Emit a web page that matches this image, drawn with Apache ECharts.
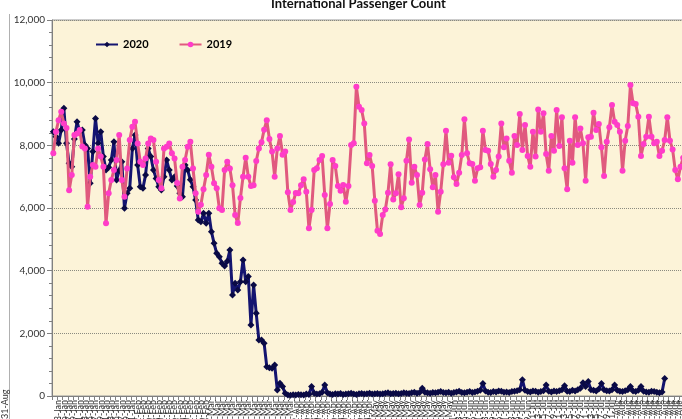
<!DOCTYPE html>
<html>
<head>
<meta charset="utf-8">
<script src="https://cdn.jsdelivr.net/npm/echarts@6/dist/echarts.min.js"></script>
<style>
html,body{margin:0;padding:0;background:#fff;}
#chart{width:682px;height:419px;}
</style>
</head>
<body>
<div id="chart"></div>
<script>
// ---- data ----
const chartTitle = 'International Passenger Count';
const seriesNames = ['2020', '2019'];
const monthNames = ['Jan', 'Feb', 'Mar', 'Apr', 'May', 'Jun', 'Jul', 'Aug'];
const monthLengths = [31, 29, 31, 30, 31, 30, 31, 31];
const yTicks = [0, 2000, 4000, 6000, 8000, 10000, 12000];

const values2019 = [
  7750, 8430, 8800, 9070, 8700, 8550, 6570, 7050, 8330, 8380,
  8490, 7960, 7900, 6040, 7000, 7370, 7320, 7900, 7640, 7320,
  5510, 6470, 6890, 7210, 7530, 8330, 6890, 6360, 7260, 8170,
  8590, 8750, 8060, 7480, 7370, 7580, 8060, 8220, 8170, 7480,
  6890, 6630, 7900, 7955, 8060, 7745, 7580, 6800, 6300, 7315,
  7530, 7955, 8115, 7260, 6470, 5880, 6100, 6600, 7050, 7700,
  7315, 6790, 6630, 5990, 5940, 7210, 7480, 7260, 6730, 5775,
  5520, 6320, 7000, 7600, 7000, 6700, 6730, 7500, 7900, 8100,
  8500, 8800, 8200, 7800, 7000, 7900, 8300, 7700, 7800, 6500,
  5935, 6190, 6480, 6470, 6730, 6915, 6520, 5350, 5935, 7210,
  7265, 7530, 7660, 6415, 5350, 6130, 7530, 7340, 6700, 6550,
  6735, 6200, 6700, 8010, 8065, 9870, 9230, 9125, 8700, 7425,
  7690, 7340, 6230, 5275, 5170, 5775, 5955, 6490, 7400, 6275,
  6470, 7075, 6020, 6310, 7510, 8190, 6805, 7315, 7050, 6095,
  6490, 7550, 8040, 7235, 6660, 7050, 5880, 6520, 7400, 8465,
  7445, 7670, 6980, 6765, 7125, 7690, 8830, 7745, 7425, 7405,
  6870, 7265, 7300, 8465, 7850, 7830, 7405, 6995, 7210, 7640,
  8700, 7935, 8220, 7510, 7125, 8300, 8010, 9000, 7850, 8650,
  7660, 7315, 8435, 7640, 9145, 8435, 9020, 7720, 7190, 8300,
  7830, 9125, 7980, 8895, 7265, 6595, 8145, 7445, 8895, 8010,
  8540, 8065, 6870, 8255, 8275, 9040, 8490, 8680, 7935, 7020,
  8115, 8575, 9285, 8755, 8650, 8435, 7190, 8145, 8615, 9925,
  9340, 9320, 8915, 7660, 8040, 8275, 8915, 8275, 8065, 8115,
  7660, 7830, 8170, 8895, 8145, 7870, 7210, 6915, 7315, 7600,
  7900, 8100, 7700, 7400
];

const values2020 = [
  8435, 8275, 8065, 8490, 9180, 8065, 7425, 7320, 8200, 8755,
  8435, 8490, 8010, 7900, 6790, 7800, 8860, 8065, 8435, 7640,
  7210, 7300, 7530, 8115, 6890, 7200, 7480, 5990, 6470, 6630,
  7900, 8330, 7370, 6680, 6630, 7050, 7900, 7640, 7210, 6945,
  6680, 6575, 7000, 7530, 7210, 6890, 7000, 6700, 6470, 6360,
  7370, 7210, 6900, 6680, 6255, 5615, 5560, 5830, 5510, 5830,
  5245, 4875, 4555, 4445, 4235, 4150, 4300, 4660, 3225, 3600,
  3385, 3650, 4340, 3650, 3810, 2265, 3545, 2640, 1790, 1790,
  1680, 935, 900, 885, 990, 190, 405, 300, 85, 30,
  20, 40, 30, 50, 40, 30, 60, 50, 300, 90,
  60, 70, 120, 350, 100, 60, 50, 70, 60, 80,
  50, 60, 70, 90, 60, 50, 70, 80, 60, 70,
  90, 60, 70, 80, 60, 70, 90, 100, 70, 80,
  90, 70, 80, 100, 90, 80, 100, 120, 90, 110,
  245, 120, 100, 90, 110, 100, 120, 140, 110, 100,
  120, 90, 110, 130, 150, 110, 100, 120, 140, 110,
  130, 150, 180, 400, 160, 120, 110, 140, 130, 160,
  150, 120, 130, 110, 140, 150, 170, 200, 520, 180,
  140, 130, 160, 150, 120, 140, 170, 350, 150, 130,
  160, 140, 170, 200, 330, 150, 140, 180, 160, 200,
  250, 420, 300, 460, 200, 180, 160, 220, 400, 200,
  170, 160, 200, 350, 180, 150, 140, 170, 200, 300,
  160, 140, 180, 300, 150, 130, 120, 150, 140, 120,
  100, 130, 560
];

// category labels: daily dates 1-Jan .. 31-Aug
const categories = [];
monthNames.forEach(function (m, i) {
  for (let d = 1; d <= monthLengths[i]; d++) categories.push(d + '-' + m);
});

// ---- chart ----
const FONT = 'Lato, "Open Sans", sans-serif';
const chart = echarts.init(document.getElementById('chart'), null, { renderer: 'canvas' });

chart.setOption({
  backgroundColor: '#ffffff',
  animation: false,
  title: {
    text: chartTitle,
    left: 266,
    top: -8,
    textStyle: { fontFamily: FONT, fontSize: 13, fontWeight: 'bold', color: '#111' }
  },
  legend: {
    data: seriesNames,
    left: 90,
    top: 34,
    itemWidth: 22,
    itemHeight: 7,
    itemGap: 30,
    textStyle: { fontFamily: FONT, fontSize: 11, fontWeight: 'bold', color: '#000' }
  },
  grid: {
    left: 52,
    top: 20,
    width: 643,
    height: 376,
    containLabel: false,
    outerBoundsMode: 'none',
    show: true,
    backgroundColor: '#FCF3D8',
    borderColor: '#9a9a9a',
    borderWidth: 1
  },
  xAxis: {
    type: 'category',
    data: categories,
    boundaryGap: true,
    axisLine: { lineStyle: { color: '#808080', width: 1 } },
    axisTick: { show: true, interval: 1, length: 4, lineStyle: { color: '#808080' } },
    axisLabel: {
      interval: 1,
      rotate: 90,
      fontSize: 9,
      fontFamily: FONT,
      color: '#333',
      margin: 4
    },
    splitLine: { show: false }
  },
  yAxis: {
    type: 'value',
    min: yTicks[0],
    max: yTicks[yTicks.length - 1],
    interval: 2000,
    axisLine: { show: true, lineStyle: { color: '#808080', width: 1 } },
    axisTick: { show: true, inside: false, length: 5, lineStyle: { color: '#808080' } },
    minorTick: { show: true, splitNumber: 5, length: 3, lineStyle: { color: '#808080' } },
    axisLabel: { fontSize: 10, fontFamily: FONT, color: '#333', margin: 7 },
    splitLine: { show: true, lineStyle: { color: '#8a8a80', type: 'dotted', width: 1 } }
  },
  series: [
    {
      name: seriesNames[0],
      type: 'line',
      data: values2020,
      symbol: 'diamond',
      symbolSize: [7, 7],
      showAllSymbol: true,
      lineStyle: { color: '#141470', width: 3 },
      itemStyle: { color: '#0a0a45', borderWidth: 0 },
      z: 2
    },
    {
      name: seriesNames[1],
      type: 'line',
      data: values2019,
      symbol: 'circle',
      symbolSize: 6,
      showAllSymbol: true,
      lineStyle: { color: '#E05A7E', width: 3 },
      itemStyle: { color: '#FF3CC8', borderWidth: 0 },
      z: 3
    }
  ],
  graphic: [
    {
      type: 'line',
      shape: { x1: 9.5, y1: 14, x2: 9.5, y2: 419 },
      style: { stroke: '#b0b0b0', lineWidth: 1 },
      silent: true
    },
    {
      type: 'text',
      x: 1,
      y: 419,
      rotation: Math.PI / 2,
      style: { text: '31-Aug', fontSize: 9, fontFamily: FONT, fill: '#333', align: 'left', verticalAlign: 'top' },
      silent: true
    }
  ]
});
</script>
</body>
</html>
